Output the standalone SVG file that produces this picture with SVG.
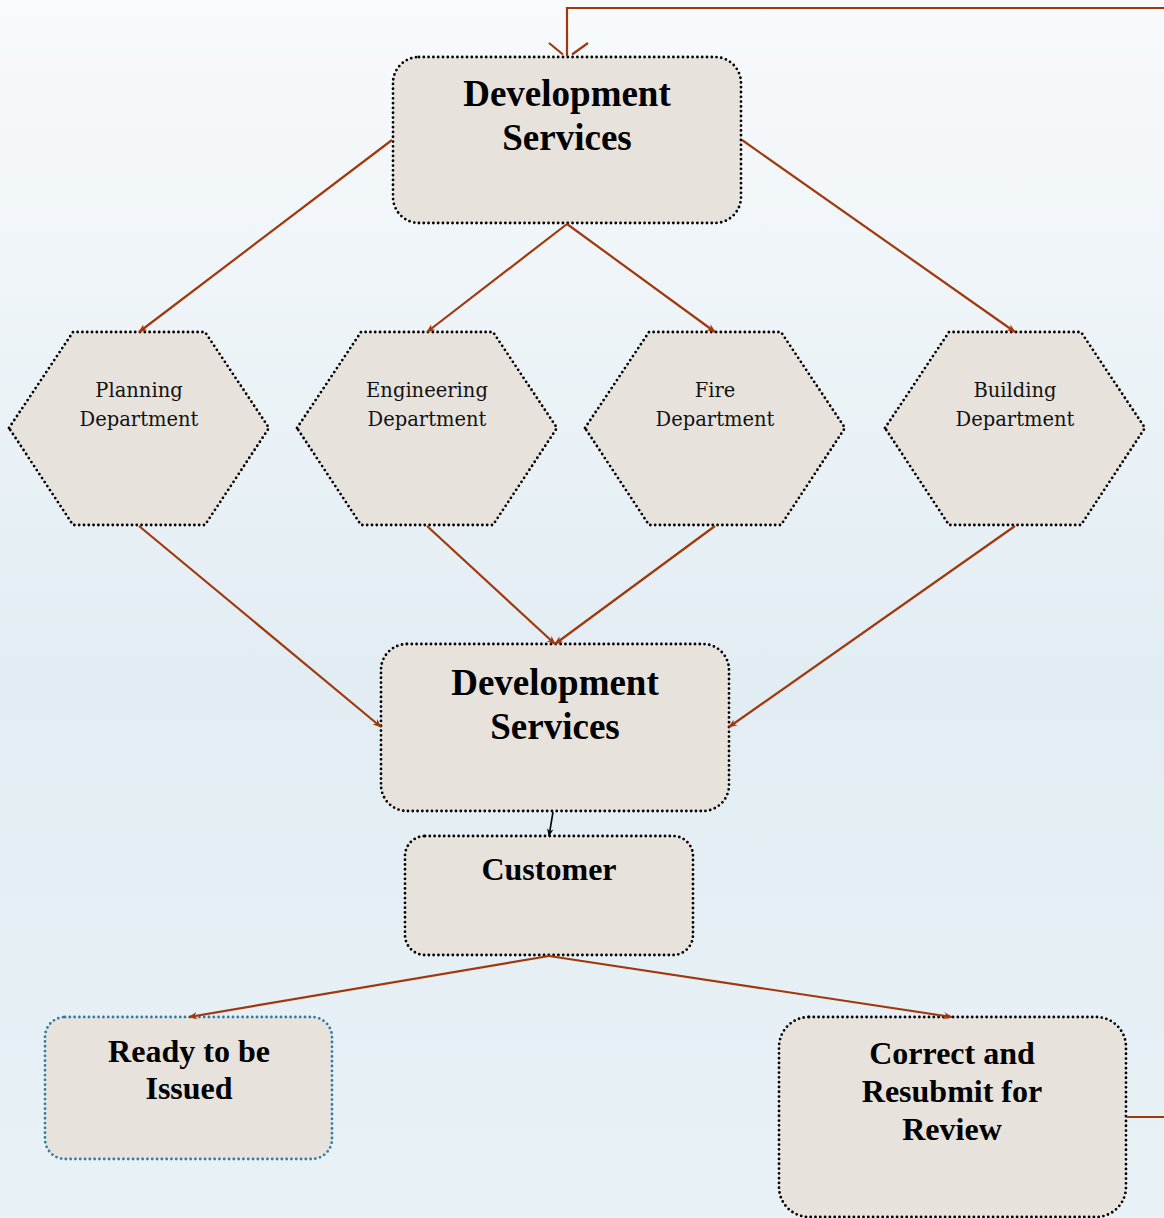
<svg xmlns="http://www.w3.org/2000/svg" width="1164" height="1218" viewBox="0 0 1164 1218">
<defs>
<linearGradient id="bg" x1="0" y1="0" x2="0" y2="1">
<stop offset="0" stop-color="#f8fafc"/>
<stop offset="0.55" stop-color="#e2edf3"/>
<stop offset="1" stop-color="#e8f1f6"/>
</linearGradient>
<marker id="ah" viewBox="0 0 10 10" refX="9" refY="5" markerWidth="9" markerHeight="9" orient="auto" markerUnits="userSpaceOnUse">
<path d="M0,1 L10,5 L0,9 L3,5 z" fill="#a0380c"/>
</marker>
<marker id="ahk" viewBox="0 0 10 10" refX="9" refY="5" markerWidth="8" markerHeight="8" orient="auto" markerUnits="userSpaceOnUse">
<path d="M0,1 L10,5 L0,9 L3,5 z" fill="#000"/>
</marker>
</defs>
<style>
.box{fill:#e8e2dc;stroke:#000;stroke-width:2.8;stroke-dasharray:0 4.8;stroke-linecap:round}
.blue{stroke:#2f7ca8}
.hex{fill:#e8e2dc;stroke:#000;stroke-width:2.8;stroke-dasharray:0 4.8;stroke-linecap:round;stroke-linejoin:round}
.big{font-family:"Liberation Serif","Times New Roman",serif;font-weight:bold;font-size:37px;text-anchor:middle;fill:#000}
.mid{font-family:"Liberation Serif","Times New Roman",serif;font-weight:bold;font-size:32px;text-anchor:middle;fill:#000}
.small{font-family:"DejaVu Serif",serif;font-size:19.5px;text-anchor:middle;fill:#111}
.con{fill:none;stroke:#a0380c;stroke-width:2.2}
</style>
<rect width="1164" height="1218" fill="url(#bg)"/>

<g id="ds-top">
<rect class="box" x="393" y="57" width="348" height="166" rx="26"/>
<text class="big" x="567" y="106">Development</text>
<text class="big" x="567" y="150">Services</text>
</g>

<g id="planning">
<polygon class="hex" points="9,428 73,332 205,332 269,428 205,525 73,525"/>
<text class="small" x="139" y="397">Planning</text>
<text class="small" x="139" y="426">Department</text>
</g>
<g id="engineering">
<polygon class="hex" points="297,428 361,332 493,332 557,428 493,525 361,525"/>
<text class="small" x="427" y="397">Engineering</text>
<text class="small" x="427" y="426">Department</text>
</g>
<g id="fire">
<polygon class="hex" points="585,428 649,332 781,332 845,428 781,525 649,525"/>
<text class="small" x="715" y="397">Fire</text>
<text class="small" x="715" y="426">Department</text>
</g>
<g id="building">
<polygon class="hex" points="885,428 949,332 1081,332 1145,428 1081,525 949,525"/>
<text class="small" x="1015" y="397">Building</text>
<text class="small" x="1015" y="426">Department</text>
</g>

<g id="ds-mid">
<rect class="box" x="381" y="644" width="348" height="167" rx="26"/>
<text class="big" x="555" y="695">Development</text>
<text class="big" x="555" y="739">Services</text>
</g>

<g id="customer">
<rect class="box" x="405" y="836" width="288" height="119" rx="20"/>
<text class="mid" x="549" y="880">Customer</text>
</g>

<g id="ready">
<rect class="box blue" x="45" y="1017" width="287" height="142" rx="20"/>
<text class="mid" x="189" y="1062">Ready to be</text>
<text class="mid" x="189" y="1099">Issued</text>
</g>

<g id="correct">
<rect class="box" x="779" y="1017" width="347" height="200" rx="30"/>
<text class="mid" x="952" y="1064">Correct and</text>
<text class="mid" x="952" y="1102">Resubmit for</text>
<text class="mid" x="952" y="1140">Review</text>
</g>

<g id="connectors">
<path class="con" d="M1127,1117 H1175 V8 H567 V56"/>
<path class="con" d="M549,43 L563,54.5 M588,43 L572,54.5"/>
<line class="con" x1="392" y1="140" x2="139" y2="332" marker-end="url(#ah)"/>
<line class="con" x1="567" y1="224" x2="427" y2="332" marker-end="url(#ah)"/>
<line class="con" x1="567" y1="224" x2="715" y2="332" marker-end="url(#ah)"/>
<line class="con" x1="742" y1="140" x2="1015" y2="332" marker-end="url(#ah)"/>
<line class="con" x1="139" y1="526" x2="381" y2="727" marker-end="url(#ah)"/>
<line class="con" x1="427" y1="526" x2="555" y2="644" marker-end="url(#ah)"/>
<line class="con" x1="715" y1="526" x2="555" y2="644" marker-end="url(#ah)"/>
<line class="con" x1="1015" y1="526" x2="729" y2="727" marker-end="url(#ah)"/>
<line x1="553" y1="812" x2="549" y2="836" stroke="#000" stroke-width="1.6" marker-end="url(#ahk)"/>
<line class="con" x1="549" y1="956" x2="189" y2="1017" marker-end="url(#ah)"/>
<line class="con" x1="549" y1="956" x2="952" y2="1017" marker-end="url(#ah)"/>
</g>
</svg>
